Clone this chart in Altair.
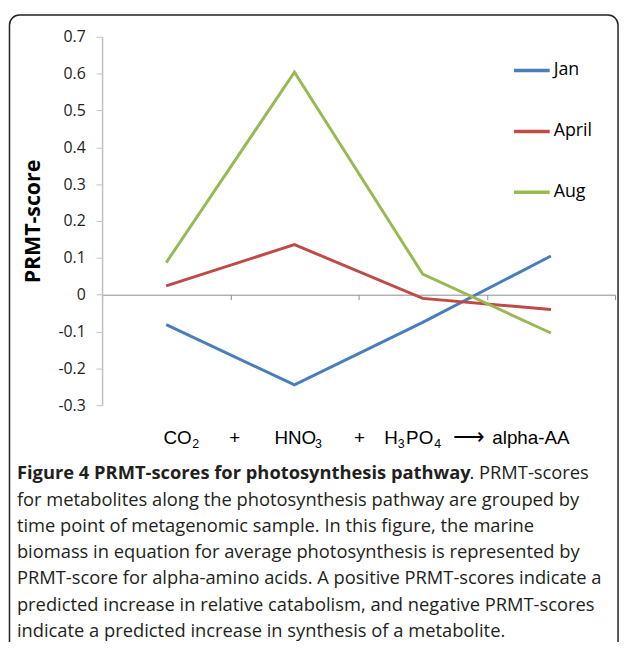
import altair as alt
import pandas as pd

# ---------------- data ----------------
categories = ["CO2", "HNO3", "H3PO4", "alpha-AA"]
months = ["Jan", "April", "Aug"]
jan = [-0.081, -0.245, -0.075, 0.105]
april = [0.024, 0.136, -0.010, -0.040]
aug = [0.087, 0.604, 0.056, -0.104]
colors = ["#4a7ebb", "#be4b48", "#98b954"]
y_ticks = [-0.3, -0.2, -0.1, 0, 0.1, 0.2, 0.3, 0.4, 0.5, 0.6, 0.7]

caption_bold = "Figure 4 PRMT-scores for photosynthesis pathway"
caption_lines = [
    ". PRMT-scores",
    "for metabolites along the photosynthesis pathway are grouped by",
    "time point of metagenomic sample. In this figure, the marine",
    "biomass in equation for average photosynthesis is represented by",
    "PRMT-score for alpha-amino acids. A positive PRMT-scores indicate a",
    "predicted increase in relative catabolism, and negative PRMT-scores",
    "indicate a predicted increase in synthesis of a metabolite.",
]

rows = []
for m, vals in zip(months, [jan, april, aug]):
    for i, (c, v) in enumerate(zip(categories, vals)):
        rows.append({"month": m, "metabolite": c, "pos": i + 1, "score": v})
df = pd.DataFrame(rows)

W, H = 518, 372
one = pd.DataFrame({"a": [0]})

x_enc = alt.X("pos:Q",
              scale=alt.Scale(domain=[0.5, 4.5], nice=False, zero=False),
              axis=alt.Axis(values=[0.5, 1.5, 2.5, 3.5, 4.5], labels=False, title=None,
                            grid=False, domainColor="#8c8c8c", tickColor="#8c8c8c",
                            tickSize=5, offset=-111.6, domainWidth=1))

lines = alt.Chart(df).mark_line(strokeWidth=3).encode(
    x=x_enc,
    y=alt.Y("score:Q",
            scale=alt.Scale(domain=[-0.3, 0.7], nice=False, zero=False),
            axis=alt.Axis(values=y_ticks, title="PRMT-score", grid=False,
                          labelExpr="datum.value == 0 ? '0' : toString(round(datum.value*10)/10)",
                          labelFont="Open Sans", labelFontSize=16, labelColor="#222222",
                          labelPadding=11, tickSize=6, tickColor="#bfbfbf",
                          domainColor="#bfbfbf", domainWidth=1.5,
                          titleFont="Open Sans", titleFontSize=21.5, titleFontWeight="bold",
                          titleColor="#000000", titlePadding=14)),
    color=alt.Color("month:N", sort=months,
                    scale=alt.Scale(domain=months, range=colors),
                    legend=alt.Legend(title=None, orient="none", legendX=414, legendY=14,
                                      symbolType="stroke", symbolSize=1300,
                                      symbolStrokeWidth=3.5, labelOffset=2,
                                      labelFont="Open Sans", labelFontSize=18,
                                      labelColor="#000000", rowPadding=32.5)),
    order=alt.Order("pos:Q"),
)

border = alt.Chart(one).mark_rect(fillOpacity=0, stroke="#222222", strokeWidth=1.5,
                                  cornerRadius=10).encode(
    x=alt.value(-93.5), x2=alt.value(521), y=alt.value(-22), y2=alt.value(700))

eq_font = "Liberation Sans"
eq_y = 445 - 34
def eq(txt, xpage, size=19, dy=0, align="left"):
    return alt.Chart(one).mark_text(text=txt, font=eq_font, fontSize=size, align=align,
                                    baseline="alphabetic", color="#000000").encode(
        x=alt.value(xpage - 103), y=alt.value(eq_y + dy))

eq_layers = [
    eq("CO", 165), eq("2", 194, 12.5, 4),
    eq("+", 237, 19, 0, "center"),
    eq("HNO", 277), eq("3", 318, 12.5, 4),
    eq("+", 363, 19, 0, "center"),
    eq("H", 388), eq("3", 401.5, 12.5, 4), eq("PO", 410), eq("4", 438.5, 12.5, 4),
    eq("\u27f6", 457, 22),
    eq("alpha-AA", 497),
]

cap_font = "Open Sans"
cap_size = 18.5
base0 = 481 - 34
step = 26.5
cap_layers = [
    alt.Chart(one).mark_text(text=caption_bold, font=cap_font, fontSize=cap_size,
                             fontWeight="bold", align="left", baseline="alphabetic",
                             color="#231f20").encode(
        x=alt.value(17 - 103), y=alt.value(base0)),
    alt.Chart(one).mark_text(text=caption_lines[0], font=cap_font, fontSize=cap_size,
                             align="left", baseline="alphabetic",
                             color="#231f20").encode(
        x=alt.value(474 - 103), y=alt.value(base0)),
]
for k, line in enumerate(caption_lines[1:], start=1):
    cap_layers.append(
        alt.Chart(one).mark_text(text=line, font=cap_font, fontSize=cap_size,
                                 align="left", baseline="alphabetic",
                                 color="#231f20").encode(
            x=alt.value(17 - 103), y=alt.value(base0 + k * step)))

chart = alt.layer(border, lines, *eq_layers, *cap_layers).properties(
    width=W, height=H,
    autosize=alt.AutoSizeParams(type="none"),
    padding={"left": 95, "top": 26, "right": 6, "bottom": 236},
).configure(background="white").configure_view(stroke=None)

chart.save("out.html", embed_options={"renderer": "svg", "actions": False})
